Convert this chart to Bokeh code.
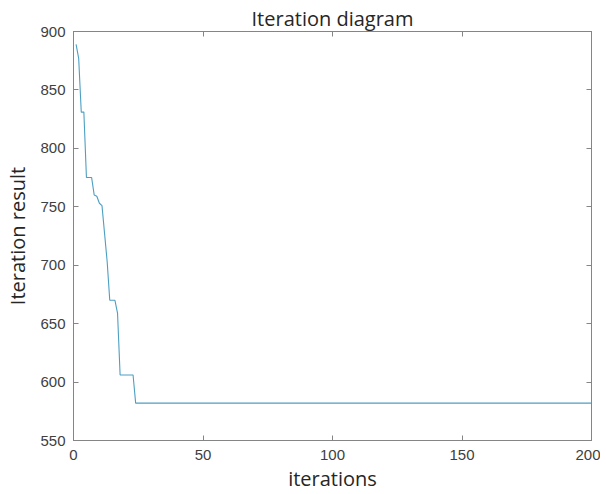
from bokeh.plotting import figure
from bokeh.models import LinearAxis, FixedTicker, Range1d, ColumnDataSource
from bokeh.embed import file_html
from bokeh.resources import INLINE

# ---- data ----
early_values = [889, 877, 831, 831, 775, 775, 775, 760, 759, 753, 751, 727,
                703, 670, 670, 670, 659, 606, 606, 606, 606, 606, 606, 582]
final_value = 582
n_iterations = 200
iterations = list(range(1, n_iterations + 1))
results = early_values + [final_value] * (n_iterations - len(early_values))

x_ticks = [0, 50, 100, 150, 200]
y_ticks = [550, 600, 650, 700, 750, 800, 850, 900]

title_text = "Iteration diagram"
x_label = "iterations"
y_label = "Iteration result"

# ---- styling ----
LINE_COLOR = "#4d9fc2"
AXIS_COLOR = "#858585"
TEXT_COLOR = "#262626"
TICK_FONT = "Liberation Sans"
LABEL_FONT = "Open Sans"

src = ColumnDataSource(dict(x=iterations, y=results))

p = figure(width=600, height=494, output_backend="svg", toolbar_location=None,
           x_range=Range1d(0, 200), y_range=Range1d(550, 900),
           min_border_left=73, min_border_right=9, min_border_top=31,
           min_border_bottom=54, title=title_text)

p.line("x", "y", source=src, line_color=LINE_COLOR, line_width=1.1)

p.xgrid.visible = False
p.ygrid.visible = False
p.outline_line_color = AXIS_COLOR
p.outline_line_width = 1
p.background_fill_color = "white"
p.border_fill_color = "white"

p.title.align = "center"
p.title.text_font = LABEL_FONT
p.title.text_font_size = "20px"
p.title.text_font_style = "normal"
p.title.text_color = TEXT_COLOR
p.title.standoff = 0
p.title.offset = 0

def style_axis(ax, labels=True):
    ax.axis_line_color = AXIS_COLOR
    ax.major_tick_line_color = AXIS_COLOR
    ax.major_tick_in = 5
    ax.major_tick_out = 0
    ax.minor_tick_line_color = None
    ax.major_label_text_font = TICK_FONT
    if labels:
        ax.major_label_text_font_size = "15px"
        ax.major_label_text_color = "#404040"
    else:
        ax.major_label_text_font_size = "1px"
        ax.major_label_text_color = None
        ax.major_label_standoff = 0
    ax.axis_label_text_font = LABEL_FONT
    ax.axis_label_text_font_size = "20px"
    ax.axis_label_text_font_style = "normal"
    ax.axis_label_text_color = TEXT_COLOR

p.xaxis.ticker = FixedTicker(ticks=x_ticks)
p.yaxis.ticker = FixedTicker(ticks=y_ticks)
style_axis(p.xaxis[0])
style_axis(p.yaxis[0])
p.xaxis.axis_label = x_label
p.yaxis.axis_label = y_label
p.xaxis.major_label_standoff = 9
p.yaxis.major_label_standoff = 8
p.xaxis.axis_label_standoff = 2
p.yaxis.axis_label_standoff = 6

top = LinearAxis(ticker=FixedTicker(ticks=x_ticks))
style_axis(top, labels=False)
p.add_layout(top, "above")

right = LinearAxis(ticker=FixedTicker(ticks=y_ticks))
style_axis(right, labels=False)
p.add_layout(right, "right")

open("out.html", "w").write(file_html(p, INLINE))
